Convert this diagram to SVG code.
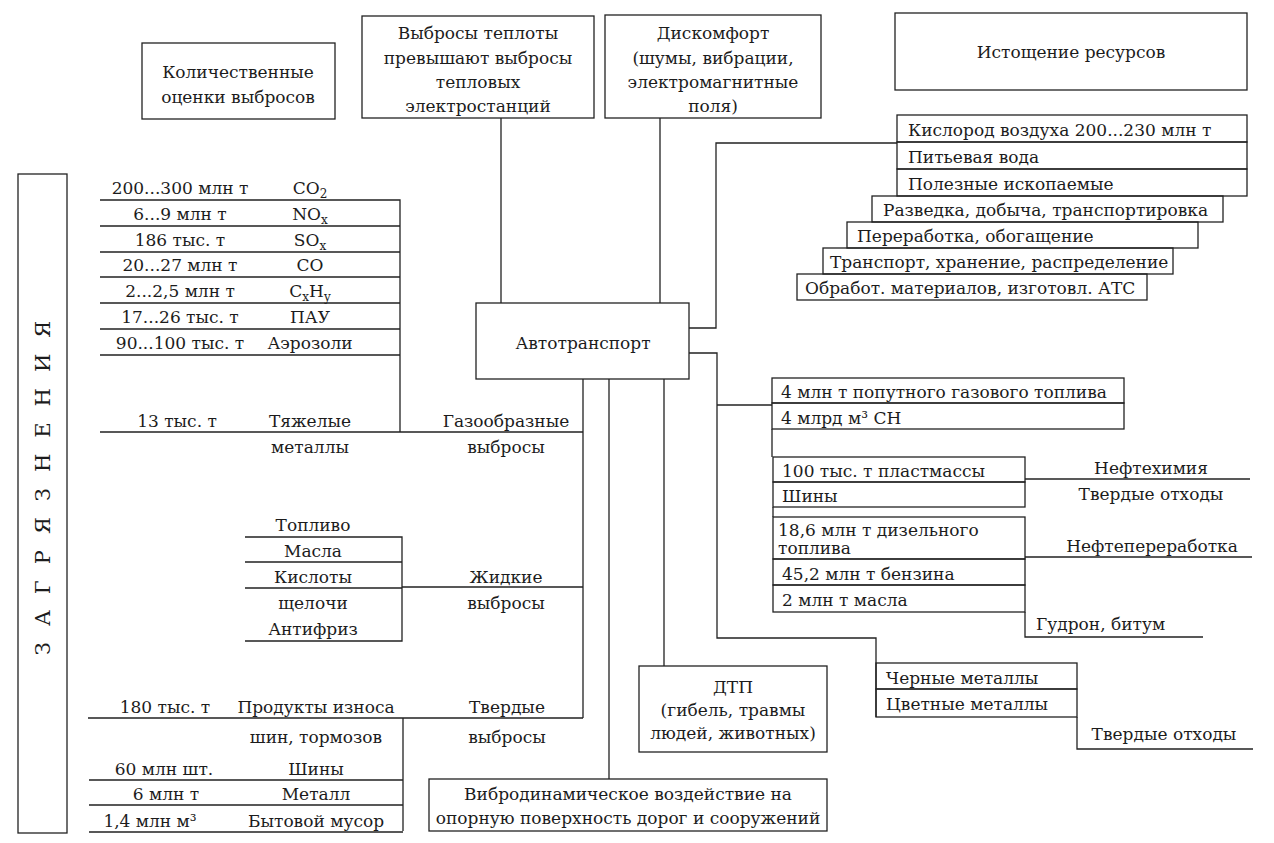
<svg xmlns="http://www.w3.org/2000/svg" width="1274" height="843" viewBox="0 0 1274 843">
<style>
.t{font-family:"DejaVu Serif","Liberation Serif",serif;font-size:17px;fill:#1c1c1c}
.m{text-anchor:middle}
.b{fill:none;stroke:#222;stroke-width:1.3}
.l{fill:none;stroke:#222;stroke-width:1.3}
.s{font-size:12px}
</style>
<rect width="1274" height="843" fill="#fff"/>

<g id="connectors">
<path class="l" d="M501 118V303M660 118V303"/>
<path class="l" d="M689 328H716V143H897"/>
<path class="l" d="M689 353H717V638H876V717"/>
<path class="l" d="M717 405H772"/>
<path class="l" d="M583 379V718M609 379V779M664 379V666"/>
<path class="l" d="M100 432H583M402 587H583M88 718H583"/>
</g>

<g id="n-kolich"><rect class="b" x="142" y="43" width="193" height="76"/>
<text class="t m" x="238" y="78">Количественные</text><text class="t m" x="238" y="103">оценки выбросов</text></g>

<g id="n-teplo"><rect class="b" x="362" y="16" width="232" height="102"/>
<text class="t m" x="478" y="39">Выбросы теплоты</text><text class="t m" x="478" y="64">превышают выбросы</text><text class="t m" x="478" y="88">тепловых</text><text class="t m" x="478" y="112">электростанций</text></g>

<g id="n-diskomfort"><rect class="b" x="605" y="15" width="216" height="103"/>
<text class="t m" x="713" y="39">Дискомфорт</text><text class="t m" x="713" y="64">(шумы, вибрации,</text><text class="t m" x="713" y="88">электромагнитные</text><text class="t m" x="713" y="112">поля)</text></g>

<g id="n-istoshchenie"><rect class="b" x="895" y="13" width="352" height="77"/>
<text class="t m" x="1071" y="58">Истощение ресурсов</text></g>

<g id="n-resources">
<rect class="b" x="897" y="115" width="350" height="27"/><text class="t" x="908" y="136">Кислород воздуха 200...230 млн т</text>
<rect class="b" x="897" y="142" width="350" height="27"/><text class="t" x="908" y="163">Питьевая вода</text>
<rect class="b" x="897" y="169" width="350" height="27"/><text class="t" x="908" y="190">Полезные ископаемые</text>
<rect class="b" x="872" y="196" width="351" height="26"/><text class="t" x="883" y="216">Разведка, добыча, транспортировка</text>
<rect class="b" x="847" y="222" width="351" height="26"/><text class="t" x="857" y="242">Переработка, обогащение</text>
<rect class="b" x="823" y="248" width="350" height="26"/><text class="t" x="830" y="268">Транспорт, хранение, распределение</text>
<rect class="b" x="797" y="274" width="350" height="26"/><text class="t" x="805" y="294">Обработ. материалов, изготовл. АТС</text>
</g>

<g id="n-avto"><rect class="b" x="476" y="303" width="213" height="76"/>
<text class="t m" x="583" y="349">Автотранспорт</text></g>

<g id="n-zagr"><rect class="b" x="18" y="174" width="49" height="659"/>
<text class="t m" transform="translate(42,488) rotate(-90)" x="8" y="8" style="font-size:21px;letter-spacing:16px">ЗАГРЯЗНЕНИЯ</text></g>

<g id="n-gas">
<path class="l" d="M100 200H400V432M100 226H400M100 252H400M100 277H400M100 303H400M100 329H400M100 355H400"/>
<text class="t m" x="180" y="194">200...300 млн т</text><text class="t m" x="310" y="194">CO<tspan class="s" dy="4">2</tspan></text>
<text class="t m" x="180" y="220">6...9 млн т</text><text class="t m" x="310" y="220">NO<tspan class="s" dy="4">x</tspan></text>
<text class="t m" x="180" y="246">186 тыс. т</text><text class="t m" x="310" y="246">SO<tspan class="s" dy="4">x</tspan></text>
<text class="t m" x="180" y="271">20...27 млн т</text><text class="t m" x="310" y="271">CO</text>
<text class="t m" x="180" y="297">2...2,5 млн т</text><text class="t m" x="310" y="297">C<tspan class="s" dy="4">x</tspan><tspan dy="-4">H</tspan><tspan class="s" dy="4">y</tspan></text>
<text class="t m" x="180" y="323">17...26 тыс. т</text><text class="t m" x="310" y="323">ПАУ</text>
<text class="t m" x="180" y="349">90...100 тыс. т</text><text class="t m" x="310" y="349">Аэрозоли</text>
<text class="t m" x="177" y="427">13 тыс. т</text><text class="t m" x="310" y="427">Тяжелые</text><text class="t m" x="310" y="453">металлы</text>
<text class="t m" x="506" y="427">Газообразные</text><text class="t m" x="506" y="453">выбросы</text>
</g>

<g id="n-liquid">
<path class="l" d="M245 537H402V641H245M245 562H402M245 588H402"/>
<text class="t m" x="313" y="531">Топливо</text>
<text class="t m" x="313" y="557">Масла</text>
<text class="t m" x="313" y="583">Кислоты</text>
<text class="t m" x="313" y="609">щелочи</text>
<text class="t m" x="313" y="635">Антифриз</text>
<text class="t m" x="506" y="583">Жидкие</text><text class="t m" x="506" y="609">выбросы</text>
</g>

<g id="n-solid">
<path class="l" d="M403 718V831M89 780H403M89 805H403M89 832H403"/>
<text class="t m" x="165" y="713">180 тыс. т</text><text class="t m" x="316" y="713">Продукты износа</text>
<text class="t m" x="316" y="743">шин, тормозов</text>
<text class="t m" x="164" y="775">60 млн шт.</text><text class="t m" x="316" y="775">Шины</text>
<text class="t m" x="166" y="800">6 млн т</text><text class="t m" x="316" y="800">Металл</text>
<text class="t m" x="150" y="827">1,4 млн м³</text><text class="t m" x="316" y="827">Бытовой мусор</text>
<text class="t m" x="507" y="713">Твердые</text><text class="t m" x="507" y="743">выбросы</text>
</g>

<g id="n-dtp"><rect class="b" x="639" y="666" width="188" height="86"/>
<text class="t m" x="733" y="693">ДТП</text><text class="t m" x="733" y="716">(гибель, травмы</text><text class="t m" x="733" y="739">людей, животных)</text></g>

<g id="n-vibro"><rect class="b" x="429" y="779" width="398" height="52"/>
<text class="t m" x="628" y="800">Вибродинамическое воздействие на</text><text class="t m" x="628" y="824">опорную поверхность дорог и сооружений</text></g>

<g id="n-neft">
<rect class="b" x="772" y="378" width="352" height="25"/><text class="t" x="781" y="398">4 млн т попутного газового топлива</text>
<rect class="b" x="772" y="403" width="352" height="26"/><text class="t" x="781" y="424">4 млрд м³ CH</text>
<path class="l" d="M772 429V457M773 507V517"/>
<rect class="b" x="773" y="457" width="252" height="25"/><text class="t" x="782" y="477">100 тыс. т пластмассы</text>
<rect class="b" x="773" y="482" width="252" height="25"/><text class="t" x="782" y="502">Шины</text>
<path class="l" d="M1025 479H1250"/>
<text class="t m" x="1151" y="474">Нефтехимия</text><text class="t m" x="1151" y="500">Твердые отходы</text>
<rect class="b" x="773" y="517" width="252" height="42"/><text class="t" x="778" y="536">18,6 млн т дизельного</text><text class="t" x="778" y="554">топлива</text>
<rect class="b" x="773" y="559" width="252" height="26"/><text class="t" x="782" y="580">45,2 млн т бензина</text>
<rect class="b" x="773" y="585" width="252" height="27"/><text class="t" x="782" y="606">2 млн т масла</text>
<path class="l" d="M1025 557H1252M1025 612V637H1203"/>
<text class="t m" x="1152" y="552">Нефтепереработка</text>
<text class="t" x="1036" y="630">Гудрон, битум</text>
</g>

<g id="n-metal">
<rect class="b" x="876" y="663" width="201" height="26"/><text class="t" x="886" y="684">Черные металлы</text>
<rect class="b" x="876" y="689" width="201" height="28"/><text class="t" x="886" y="710">Цветные металлы</text>
<path class="l" d="M1077 717V749H1253"/>
<text class="t m" x="1164" y="740">Твердые отходы</text>
</g>
</svg>
